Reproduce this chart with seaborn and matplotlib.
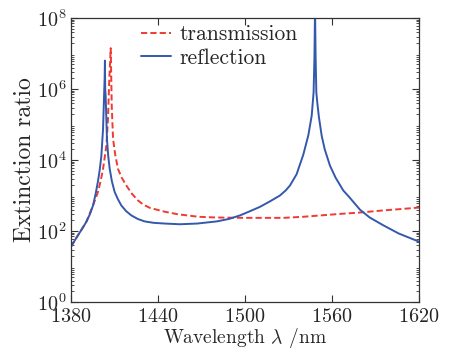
import numpy as np
import pandas as pd
import matplotlib
matplotlib.use("Agg")
import matplotlib.pyplot as plt
import seaborn as sns
from matplotlib.ticker import LogLocator, FixedLocator

# Transmission (red dashed): wavelength (nm) and log10(extinction ratio)
trans_wl = [1380, 1384.8, 1390.6, 1395.2, 1398.6, 1400.5, 1402.1, 1404.4, 1405.5, 1406.4,
            1407.4, 1408.1, 1409.0, 1410.5, 1412.4, 1415.0, 1418.2, 1422.0, 1426.2, 1430.0,
            1434.5, 1445, 1453.8, 1460, 1468, 1480.5, 1500, 1526.4, 1540, 1549.4,
            1565, 1579.3, 1595.4, 1608, 1620]
trans_log = [1.56, 1.88, 2.26, 2.72, 3.1, 3.42, 3.75, 4.4, 5.15, 6.27,
             7.15, 5.52, 4.6, 4.15, 3.75, 3.5, 3.28, 3.05, 2.86, 2.74,
             2.65, 2.54, 2.47, 2.44, 2.40, 2.38, 2.37, 2.37, 2.40, 2.43,
             2.48, 2.52, 2.58, 2.62, 2.66]

# Reflection (blue solid)
refl_wl = [1380, 1384.8, 1387.5, 1390.6, 1393.0, 1395.2, 1397.0, 1398.6, 1399.8, 1400.9,
           1402.1, 1402.8, 1403.2, 1403.4, 1403.6, 1403.9, 1404.8, 1405.7, 1406.7, 1408.2,
           1410.1, 1412.3, 1414.7, 1418.0, 1421.6, 1426.0, 1430.8, 1437.0, 1444.6, 1455.2,
           1467, 1480.5, 1489, 1496.6, 1503, 1510.3, 1517, 1524.1, 1528, 1531, 1535.6,
           1540.2, 1543.7, 1546.0, 1547.3, 1547.9, 1548.3, 1548.7, 1549.2, 1549.9, 1551.0,
           1552.9, 1555.0, 1558.6, 1562.5, 1567.8, 1572, 1579.3, 1586, 1595.4, 1606,
           1620]
refl_log = [1.56, 1.88, 2.05, 2.26, 2.47, 2.72, 3.05, 3.4, 3.72, 4.1,
            4.87, 5.8, 6.3, 6.8, 6.0, 5.8, 4.59, 4.1, 3.75, 3.4,
            3.1, 2.9, 2.72, 2.56, 2.44, 2.34, 2.27, 2.23, 2.21, 2.19,
            2.21, 2.27, 2.34, 2.44, 2.55, 2.68, 2.83, 3.0, 3.14, 3.28, 3.6,
            4.15, 4.7, 5.25, 5.9, 6.9, 8.3, 6.9, 5.9, 5.6, 5.2,
            4.68, 4.3, 3.84, 3.5, 3.14, 2.95, 2.6, 2.38, 2.16, 1.93,
            1.70]

x_ticks = [1380, 1440, 1500, 1560, 1620]
y_ticks = [1e0, 1e2, 1e4, 1e6, 1e8]

df_t = pd.DataFrame({"wl": trans_wl, "val": np.power(10.0, trans_log)})
df_r = pd.DataFrame({"wl": refl_wl, "val": np.power(10.0, refl_log)})

sns.set_style("ticks")
plt.rcParams["font.family"] = ["cmr10", "DejaVu Serif"]
plt.rcParams["mathtext.fontset"] = "cm"
plt.rcParams["axes.formatter.use_mathtext"] = True
plt.rcParams["axes.unicode_minus"] = False

fig = plt.figure(figsize=(4.59, 3.5), dpi=100)
ax = fig.add_axes([71/459, 48/350, 348/459, 284/350])

sns.lineplot(data=df_t, x="wl", y="val", ax=ax, color="#f03a32", lw=1.4,
             linestyle=(0, (3.2, 1.6)), sort=False, estimator=None, label="transmission")
sns.lineplot(data=df_r, x="wl", y="val", ax=ax, color="#3358ac", lw=1.4,
             sort=False, estimator=None, label="reflection")

ax.set_yscale("log")
ax.set_xlim(1380, 1620)
ax.set_ylim(1, 1e8)
ax.xaxis.set_major_locator(FixedLocator(x_ticks))
ax.yaxis.set_major_locator(FixedLocator(y_ticks))
ax.yaxis.set_minor_locator(LogLocator(base=10, subs=np.arange(2, 10), numticks=20))
ax.tick_params(which="both", direction="in", top=True, right=True, labelsize=14.5,
               color="#333333")
ax.tick_params(which="major", length=5, width=0.8)
ax.tick_params(axis="x", which="major", pad=4.5)
ax.tick_params(axis="y", which="major", pad=3)
ax.tick_params(which="minor", length=2.5, width=0.6)
for s in ax.spines.values():
    s.set_color("#333333")
    s.set_linewidth(0.9)

ax.set_xlabel(r"Wavelength $\lambda$ /nm", fontsize=14, labelpad=-0.5)
ax.set_ylabel("Extinction ratio", fontsize=17, labelpad=1)

leg = ax.legend(loc="upper left", bbox_to_anchor=(0.145, 1.045), frameon=False,
                fontsize=15.5, handlelength=1.4, handletextpad=0.4, labelspacing=0.2)

fig.savefig("out.png", dpi=100, facecolor="white")
